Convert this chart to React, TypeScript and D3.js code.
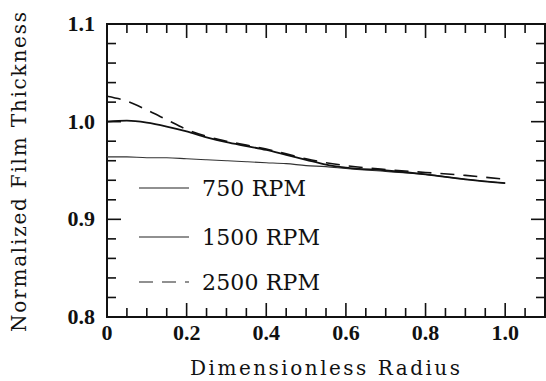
import React from "react";
import * as d3 from "d3";

const radius = [0, 0.05, 0.1, 0.15, 0.2, 0.25, 0.3, 0.35, 0.4, 0.45, 0.5, 0.55, 0.6, 0.7, 0.8, 0.9, 1.0];
const rpm750 = [0.964, 0.964, 0.963, 0.963, 0.962, 0.961, 0.960, 0.959, 0.958, 0.957, 0.955, 0.954, 0.952, 0.949, 0.946, 0.941, 0.937];
const rpm1500 = [1.0, 1.001, 0.999, 0.995, 0.990, 0.984, 0.979, 0.975, 0.971, 0.966, 0.961, 0.956, 0.953, 0.950, 0.946, 0.941, 0.937];
const rpm2500 = [1.026, 1.021, 1.012, 1.002, 0.992, 0.985, 0.980, 0.976, 0.972, 0.967, 0.962, 0.958, 0.955, 0.951, 0.948, 0.945, 0.941];
const seriesNames = ["750 RPM", "1500 RPM", "2500 RPM"];
const xTickLabels = ["0", "0.2", "0.4", "0.6", "0.8", "1.0"];
const xTickValues = [0, 0.2, 0.4, 0.6, 0.8, 1.0];
const yTickLabels = ["0.8", "0.9", "1.0", "1.1"];
const yTickValues = [0.8, 0.9, 1.0, 1.1];

const W = 546, H = 381;
const L = 107, R = 545, T = 24, B = 317;

export default function App() {
  const x = d3.scaleLinear().domain([0, 1.1]).range([L, R]);
  const y = d3.scaleLinear().domain([0.8, 1.1]).range([B, T]);
  const line = (vals: number[]) =>
    d3.line<number>().x((_, i) => x(radius[i])).y((v) => y(v)).curve(d3.curveMonotoneX)(vals) || "";

  const xMinor = d3.range(0, 1.1, 0.05).filter((v) => Math.abs(v / 0.2 - Math.round(v / 0.2)) > 1e-6);
  const yMinor = d3.range(0.8, 1.1, 0.02).filter((v) => Math.abs((v - 0.8) / 0.1 - Math.round((v - 0.8) / 0.1)) > 1e-6 && v > 0.801);
  const maj = 14, mnr = 9;
  const styles = [
    { stroke: "#333", width: 1.1, dash: "" },
    { stroke: "#111", width: 1.8, dash: "" },
    { stroke: "#111", width: 1.6, dash: "14 9" },
  ];
  const series = [rpm750, rpm1500, rpm2500];
  const legendY = [188, 237, 282];
  const serif = "'DejaVu Serif', serif";
  const tickFont = "'Liberation Serif', serif";

  return (
    <svg width={W} height={H} style={{ position: "absolute", left: 0, top: 0, background: "#fff" }}>
      <rect x={0} y={0} width={W} height={H} fill="#fff" />
      {/* ticks */}
      <g stroke="#111" strokeWidth={1.6}>
        {xTickValues.map((v) => (
          <g key={"xm" + v}>
            <line x1={x(v)} x2={x(v)} y1={B} y2={B - maj} />
            <line x1={x(v)} x2={x(v)} y1={T} y2={T + maj} />
          </g>
        ))}
        {xMinor.map((v) => (
          <g key={"xn" + v}>
            <line x1={x(v)} x2={x(v)} y1={B} y2={B - mnr} />
            <line x1={x(v)} x2={x(v)} y1={T} y2={T + mnr} />
          </g>
        ))}
        {yTickValues.map((v) => (
          <g key={"ym" + v}>
            <line x1={L} x2={L + maj} y1={y(v)} y2={y(v)} />
            <line x1={R} x2={R - maj} y1={y(v)} y2={y(v)} />
          </g>
        ))}
        {yMinor.map((v) => (
          <g key={"yn" + v}>
            <line x1={L} x2={L + mnr} y1={y(v)} y2={y(v)} />
            <line x1={R} x2={R - mnr} y1={y(v)} y2={y(v)} />
          </g>
        ))}
      </g>
      <rect x={L} y={T} width={R - L} height={B - T} fill="none" stroke="#111" strokeWidth={2} />
      {/* tick labels */}
      {xTickValues.map((v, i) => (
        <text key={"xl" + v} x={x(v)} y={340} textAnchor="middle" fontFamily={tickFont} fontWeight="bold" fontSize={22} fill="#111">
          {xTickLabels[i]}
        </text>
      ))}
      {yTickValues.map((v, i) => (
        <text key={"yl" + v} x={95} y={y(v) + 7} textAnchor="end" fontFamily={tickFont} fontWeight="bold" fontSize={22} fill="#111">
          {yTickLabels[i]}
        </text>
      ))}
      {/* curves */}
      {series.map((s, i) => (
        <path key={"s" + i} d={line(s)} fill="none" stroke={styles[i].stroke} strokeWidth={styles[i].width} strokeDasharray={styles[i].dash} />
      ))}
      {/* legend */}
      {seriesNames.map((n, i) => (
        <g key={"lg" + i}>
          <line x1={139} x2={189} y1={legendY[i]} y2={legendY[i]} stroke="#222" strokeWidth={1.2} strokeDasharray={i === 2 ? "14 9" : ""} />
          <text x={202} y={legendY[i] + 8} fontFamily={serif} fontSize={22} fill="#111" textLength={i === 0 ? 104 : 118} lengthAdjust="spacing">
            {n}
          </text>
        </g>
      ))}
      {/* axis titles */}
      <text x={325} y={375} textAnchor="middle" fontFamily={serif} fontSize={20} fill="#111" textLength={270} lengthAdjust="spacing">
        Dimensionless Radius
      </text>
      <text transform="translate(26,172) rotate(-90)" textAnchor="middle" fontFamily={serif} fontSize={20} fill="#111" textLength={320} lengthAdjust="spacing">
        Normalized Film Thickness
      </text>
    </svg>
  );
}
